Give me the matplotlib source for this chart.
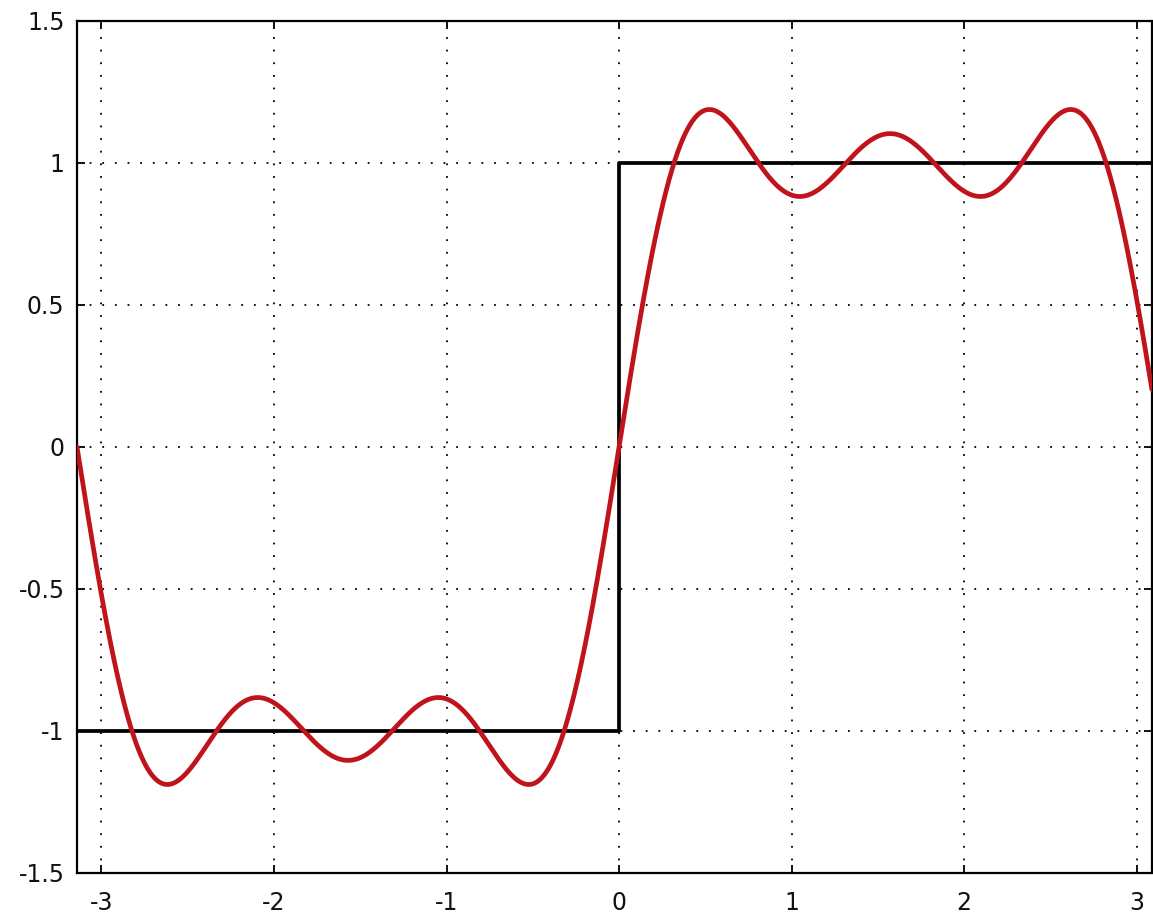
import numpy as np
import matplotlib
matplotlib.use("Agg")
import matplotlib.pyplot as plt

# Square wave (black)
square_x = [-np.pi, 0.0, 0.0, np.pi]
square_y = [-1.0, -1.0, 1.0, 1.0]

# Truncated Fourier series of the square wave (red): odd harmonics and amplitudes
harmonics = [1, 3, 5]
amplitudes = [4 / np.pi, 4 / (3 * np.pi), 4 / (5 * np.pi)]

x_ticks = [-3, -2, -1, 0, 1, 2, 3]
x_labels = ["-3", "-2", "-1", "0", "1", "2", "3"]
y_ticks = [-1.5, -1, -0.5, 0, 0.5, 1, 1.5]
y_labels = ["-1.5", "-1", "-0.5", "0", "0.5", "1", "1.5"]

plt.rcParams["font.family"] = ["DejaVu Sans"]

fig = plt.figure(figsize=(11.53, 9.19), dpi=100)
ax = fig.add_axes([77 / 1153, 46 / 919, (1151.5 - 77) / 1153, (873 - 21) / 919])

xs = np.linspace(-np.pi, np.pi, 2000)
series = sum(a * np.sin(h * xs) for h, a in zip(harmonics, amplitudes))

ax.plot(square_x, square_y, color="black", lw=2.7, zorder=3)
ax.plot(xs, series, color="#c0141c", lw=3.4, zorder=4, solid_capstyle="round")

ax.set_xlim(-np.pi, 3.086)
ax.set_ylim(-1.5, 1.5)
ax.set_xticks(x_ticks)
ax.set_xticklabels(x_labels)
ax.set_yticks(y_ticks)
ax.set_yticklabels(y_labels)

ax.grid(True, color="black", linestyle=(0, (1, 6)), lw=1.3)
ax.set_axisbelow(True)

for s in ax.spines.values():
    s.set_linewidth(1.6)

ax.tick_params(axis="both", direction="in", length=6, width=1.4,
               top=True, right=True, labelsize=17, colors="#111111")
ax.tick_params(axis="x", pad=13)
ax.tick_params(axis="y", pad=9)

fig.savefig("out.png", dpi=100)
